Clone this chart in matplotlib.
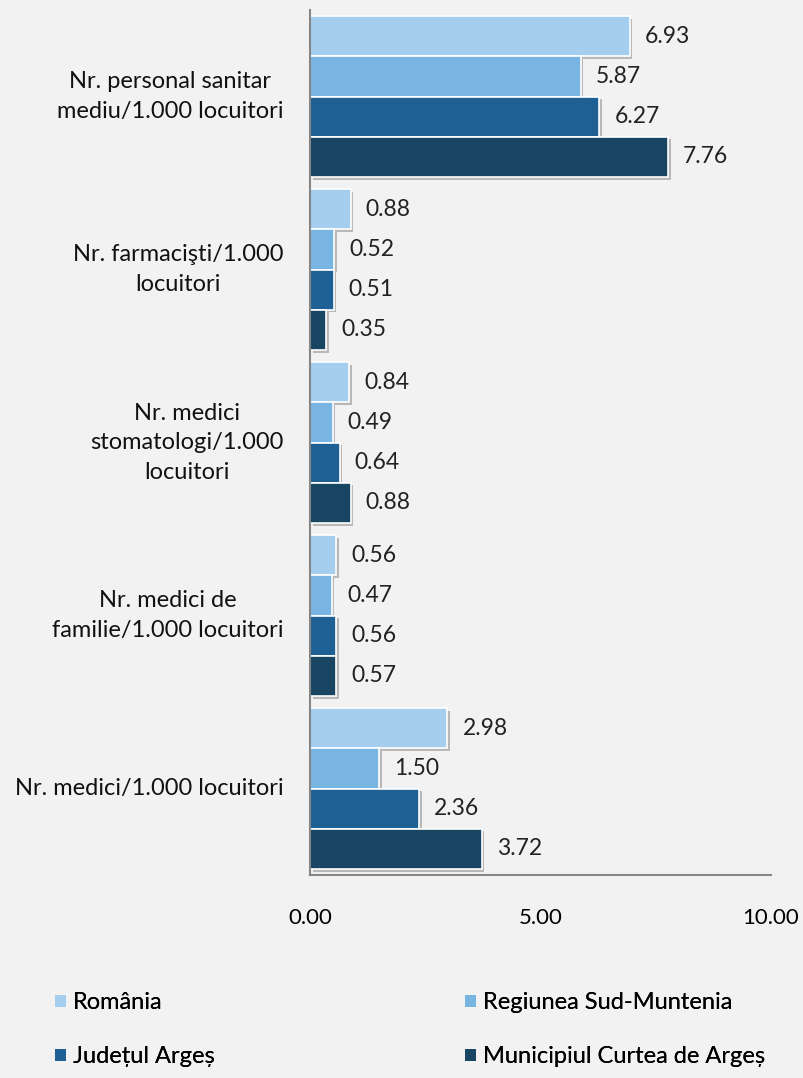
import matplotlib.pyplot as plt
import matplotlib.patheffects as pe
import matplotlib.transforms as mtransforms
from matplotlib.patches import Patch
import numpy as np

plt.rcParams['font.family'] = ['Lato', 'DejaVu Sans']

categories = ['Nr. medici/1.000 locuitori',
              'Nr. medici de\nfamilie/1.000 locuitori',
              'Nr. medici\nstomatologi/1.000\nlocuitori',
              'Nr. farmacişti/1.000\nlocuitori',
              'Nr. personal sanitar\nmediu/1.000 locuitori']
series = ['România', 'Regiunea Sud-Muntenia', 'Județul Argeș', 'Municipiul Curtea de Argeș']
romania = [2.98, 0.56, 0.84, 0.88, 6.93]
regiunea = [1.50, 0.47, 0.49, 0.52, 5.87]
judet = [2.36, 0.56, 0.64, 0.51, 6.27]
municipiu = [3.72, 0.57, 0.88, 0.35, 7.76]
colors = ['#a5cdee', '#78b5e3', '#1f6094', '#184562']

fig = plt.figure(figsize=(8.04, 10.78), dpi=100, facecolor='#f2f2f2')
ax = fig.add_axes([0.3856, 0.1883, 0.5734, 0.8024])
ax.set_facecolor('#f2f2f2')

y = np.arange(len(categories))
h = 0.232
shadow = [pe.SimplePatchShadow(offset=(2, -2), shadow_rgbFace='#7f7f7f', alpha=0.5), pe.Normal()]
for i, (vals, col, name) in enumerate(zip([romania, regiunea, judet, municipiu], colors, series)):
    pos = y + (1.5 - i) * h
    ax.barh(pos, vals, height=h, color=col, edgecolor='white', linewidth=1.2,
            label=name, path_effects=shadow)
    for p, v in zip(pos, vals):
        ax.text(v + 0.33, p, '%.2f' % v, va='center', ha='left', fontsize=16.5, color='#222222')

ax.set_xlim(0, 10)
ax.set_ylim(-0.5, 4.5)
ax.set_xticks([0, 5, 10])
ax.set_xticklabels(['0.00', '5.00', '10.00'], fontsize=16)
ax.set_yticks([])

# category labels drawn as text: block right-aligned, lines centred
trans = mtransforms.blended_transform_factory(ax.transAxes, ax.transData)
for yi, cat in zip(y, categories):
    ax.text(-0.058, yi, cat, ha='right', va='center', multialignment='center',
            fontsize=17, linespacing=1.5, color='#111111', transform=trans)

ax.tick_params(axis='x', length=0, pad=24)
for s in ['top', 'right']:
    ax.spines[s].set_visible(False)
for s in ['left', 'bottom']:
    ax.spines[s].set_color('#868686')
    ax.spines[s].set_linewidth(1.5)

# two legend columns placed separately
handles = [Patch(facecolor=c) for c in colors]
for k, xa in [(0, 0.0684), (1, 0.5784)]:
    leg = fig.legend([handles[k], handles[k + 2]], [series[k], series[k + 2]],
                     loc='upper left', bbox_to_anchor=(xa, 0.0795), frameon=False,
                     fontsize=17, handlelength=0.45, handleheight=0.45, handletextpad=0.3,
                     labelspacing=1.4, borderpad=0, borderaxespad=0)
    fig.add_artist(leg)

fig.savefig('out.png', dpi=100, facecolor=fig.get_facecolor())
